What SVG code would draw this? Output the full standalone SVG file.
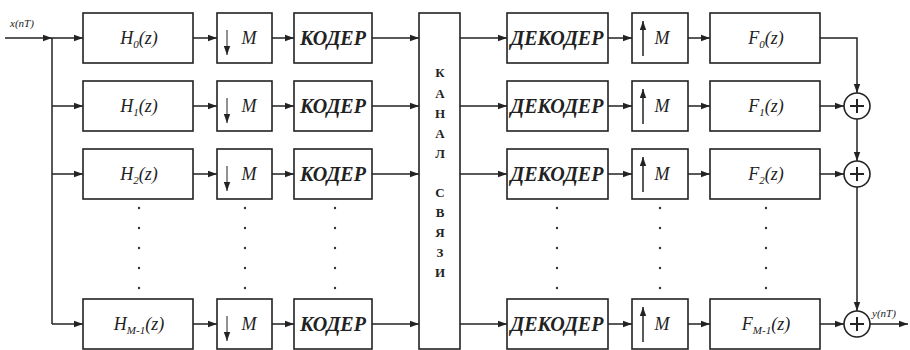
<svg xmlns="http://www.w3.org/2000/svg" width="910" height="350" viewBox="0 0 910 350">
<defs>
<marker id="ar" markerUnits="userSpaceOnUse" markerWidth="10" markerHeight="8" refX="9" refY="4" orient="auto">
<path d="M0,0.8 L9,4 L0,7.2 Z" fill="#222"/>
</marker>
<style>
.b{fill:#fff;stroke:#222;stroke-width:1.6}
.c{fill:none;stroke:#222;stroke-width:1.5}
.a{fill:none;stroke:#222;stroke-width:1.5;marker-end:url(#ar)}
text{font-family:"Liberation Serif","Times New Roman","DejaVu Serif",serif;fill:#222}
.t{font-style:italic;font-size:18px;text-anchor:middle}
.s{font-size:11px}
.k{font-style:italic;font-weight:bold;font-size:20px;text-anchor:middle}
.v{font-weight:bold;font-size:13px;text-anchor:middle}
.l{font-style:italic;font-size:11px}
.d{fill:#333}
</style>
</defs>
<g id="connectors">
<path class="a" d="M5,38 H52"/>
<path class="c" d="M52,38 V324"/>
<path class="a" d="M52,38 H83"/>
<path class="a" d="M52,106 H83"/>
<path class="a" d="M52,174 H83"/>
<path class="a" d="M52,324 H83"/>
<path class="a" d="M193,38 H217"/><path class="a" d="M193,106 H217"/><path class="a" d="M193,174 H217"/><path class="a" d="M193,324 H217"/>
<path class="a" d="M272,38 H294"/><path class="a" d="M272,106 H294"/><path class="a" d="M272,174 H294"/><path class="a" d="M272,324 H294"/>
<path class="a" d="M372,38 H419"/><path class="a" d="M372,106 H419"/><path class="a" d="M372,174 H419"/><path class="a" d="M372,324 H419"/>
<path class="a" d="M460,38 H507"/><path class="a" d="M460,106 H507"/><path class="a" d="M460,174 H507"/><path class="a" d="M460,324 H507"/>
<path class="a" d="M608,38 H632"/><path class="a" d="M608,106 H632"/><path class="a" d="M608,174 H632"/><path class="a" d="M608,324 H632"/>
<path class="a" d="M688,38 H710"/><path class="a" d="M688,106 H710"/><path class="a" d="M688,174 H710"/><path class="a" d="M688,324 H710"/>
<path class="a" d="M820,38 H857 V93"/>
<path class="a" d="M820,106 H844"/>
<path class="a" d="M820,174 H844"/>
<path class="a" d="M820,324 H844"/>
<path class="a" d="M857,119 V161"/>
<path class="a" d="M857,187 V311"/>
<path class="a" d="M870,324 H908"/>
</g>
<text class="l" x="10" y="27">x(nT)</text>
<text class="l" x="872" y="317">y(nT)</text>
<g id="H0"><rect class="b" x="83" y="13" width="110" height="50"/><text class="t" x="139" y="44">H<tspan class="s" dy="4">0</tspan><tspan dy="-4">(z)</tspan></text></g>
<g id="H1"><rect class="b" x="83" y="81" width="110" height="50"/><text class="t" x="139" y="112">H<tspan class="s" dy="4">1</tspan><tspan dy="-4">(z)</tspan></text></g>
<g id="H2"><rect class="b" x="83" y="149" width="110" height="50"/><text class="t" x="139" y="180">H<tspan class="s" dy="4">2</tspan><tspan dy="-4">(z)</tspan></text></g>
<g id="HM"><rect class="b" x="83" y="299" width="110" height="50"/><text class="t" x="139" y="330">H<tspan class="s" dy="4">M-1</tspan><tspan dy="-4">(z)</tspan></text></g>
<g id="D0"><rect class="b" x="217" y="13" width="55" height="50"/><path class="a" style="stroke-width:1" d="M227,30 V55"/><text class="t" x="249" y="44">M</text></g>
<g id="D1"><rect class="b" x="217" y="81" width="55" height="50"/><path class="a" style="stroke-width:1" d="M227,98 V123"/><text class="t" x="249" y="112">M</text></g>
<g id="D2"><rect class="b" x="217" y="149" width="55" height="50"/><path class="a" style="stroke-width:1" d="M227,166 V191"/><text class="t" x="249" y="180">M</text></g>
<g id="DM"><rect class="b" x="217" y="299" width="55" height="50"/><path class="a" style="stroke-width:1" d="M227,316 V341"/><text class="t" x="249" y="330">M</text></g>
<g id="K0"><rect class="b" x="294" y="13" width="78" height="50"/><text class="k" x="333" y="45">КОДЕР</text></g>
<g id="K1"><rect class="b" x="294" y="81" width="78" height="50"/><text class="k" x="333" y="113">КОДЕР</text></g>
<g id="K2"><rect class="b" x="294" y="149" width="78" height="50"/><text class="k" x="333" y="181">КОДЕР</text></g>
<g id="KM"><rect class="b" x="294" y="299" width="78" height="50"/><text class="k" x="333" y="331">КОДЕР</text></g>
<g id="channel"><rect class="b" x="419" y="13" width="41" height="336"/>
<text class="v" x="440" y="77">К</text><text class="v" x="440" y="98">А</text><text class="v" x="440" y="118">Н</text><text class="v" x="440" y="138">А</text><text class="v" x="440" y="158">Л</text>
<text class="v" x="440" y="197">С</text><text class="v" x="440" y="217">В</text><text class="v" x="440" y="237">Я</text><text class="v" x="440" y="257">З</text><text class="v" x="440" y="277">И</text></g>
<g id="DK0"><rect class="b" x="507" y="13" width="101" height="50"/><text class="k" x="557" y="45">ДЕКОДЕР</text></g>
<g id="DK1"><rect class="b" x="507" y="81" width="101" height="50"/><text class="k" x="557" y="113">ДЕКОДЕР</text></g>
<g id="DK2"><rect class="b" x="507" y="149" width="101" height="50"/><text class="k" x="557" y="181">ДЕКОДЕР</text></g>
<g id="DKM"><rect class="b" x="507" y="299" width="101" height="50"/><text class="k" x="557" y="331">ДЕКОДЕР</text></g>
<g id="U0"><rect class="b" x="632" y="13" width="56" height="50"/><path class="a" d="M643,56 V21"/><text class="t" x="662" y="44">M</text></g>
<g id="U1"><rect class="b" x="632" y="81" width="56" height="50"/><path class="a" d="M643,124 V89"/><text class="t" x="662" y="112">M</text></g>
<g id="U2"><rect class="b" x="632" y="149" width="56" height="50"/><path class="a" d="M643,192 V157"/><text class="t" x="662" y="180">M</text></g>
<g id="UM"><rect class="b" x="632" y="299" width="56" height="50"/><path class="a" d="M643,342 V307"/><text class="t" x="662" y="330">M</text></g>
<g id="F0"><rect class="b" x="710" y="13" width="110" height="50"/><text class="t" x="766" y="44">F<tspan class="s" dy="4">0</tspan><tspan dy="-4">(z)</tspan></text></g>
<g id="F1"><rect class="b" x="710" y="81" width="110" height="50"/><text class="t" x="766" y="112">F<tspan class="s" dy="4">1</tspan><tspan dy="-4">(z)</tspan></text></g>
<g id="F2"><rect class="b" x="710" y="149" width="110" height="50"/><text class="t" x="766" y="180">F<tspan class="s" dy="4">2</tspan><tspan dy="-4">(z)</tspan></text></g>
<g id="FM"><rect class="b" x="710" y="299" width="110" height="50"/><text class="t" x="766" y="330">F<tspan class="s" dy="4">M-1</tspan><tspan dy="-4">(z)</tspan></text></g>
<g id="S1"><circle class="b" cx="857" cy="106" r="13"/><path class="c" style="stroke-width:2" d="M857,99 V113 M850,106 H864"/></g>
<g id="S2"><circle class="b" cx="857" cy="174" r="13"/><path class="c" style="stroke-width:2" d="M857,167 V181 M850,174 H864"/></g>
<g id="S3"><circle class="b" cx="857" cy="324" r="13"/><path class="c" style="stroke-width:2" d="M857,317 V331 M850,324 H864"/></g>
<g id="dots">
<g class="d"><circle cx="139" cy="208" r="1.2"/><circle cx="139" cy="228" r="1.2"/><circle cx="139" cy="248" r="1.2"/><circle cx="139" cy="268" r="1.2"/><circle cx="139" cy="288" r="1.2"/></g>
<g class="d"><circle cx="245" cy="208" r="1.2"/><circle cx="245" cy="228" r="1.2"/><circle cx="245" cy="248" r="1.2"/><circle cx="245" cy="268" r="1.2"/><circle cx="245" cy="288" r="1.2"/></g>
<g class="d"><circle cx="335" cy="208" r="1.2"/><circle cx="335" cy="228" r="1.2"/><circle cx="335" cy="248" r="1.2"/><circle cx="335" cy="268" r="1.2"/><circle cx="335" cy="288" r="1.2"/></g>
<g class="d"><circle cx="557" cy="208" r="1.2"/><circle cx="557" cy="228" r="1.2"/><circle cx="557" cy="248" r="1.2"/><circle cx="557" cy="268" r="1.2"/><circle cx="557" cy="288" r="1.2"/></g>
<g class="d"><circle cx="660" cy="208" r="1.2"/><circle cx="660" cy="228" r="1.2"/><circle cx="660" cy="248" r="1.2"/><circle cx="660" cy="268" r="1.2"/><circle cx="660" cy="288" r="1.2"/></g>
<g class="d"><circle cx="766" cy="208" r="1.2"/><circle cx="766" cy="228" r="1.2"/><circle cx="766" cy="248" r="1.2"/><circle cx="766" cy="268" r="1.2"/><circle cx="766" cy="288" r="1.2"/></g>
</g>
</svg>
